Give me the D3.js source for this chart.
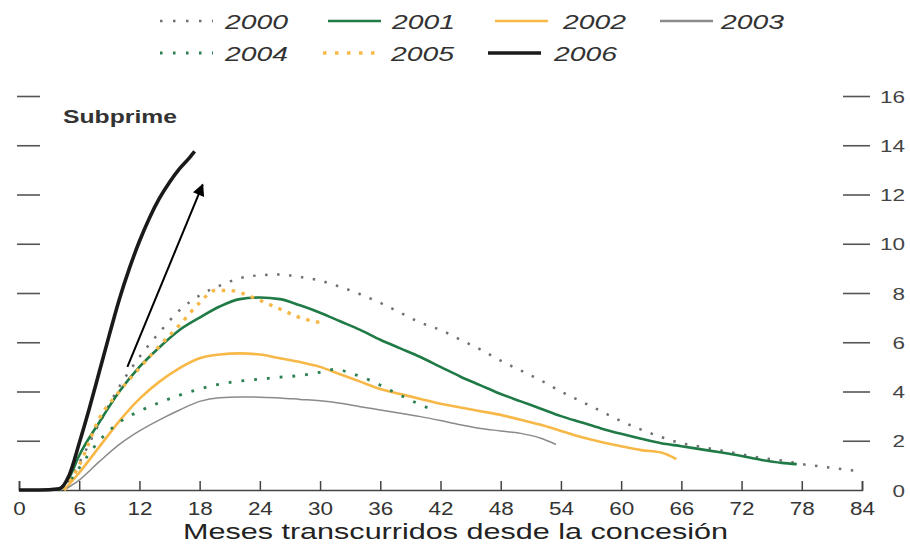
<!DOCTYPE html>
<html>
<head>
<meta charset="utf-8">
<script src="https://cdn.jsdelivr.net/npm/d3@7"></script>
<style>
  html, body { margin: 0; padding: 0; background: #fff; }
  svg { display: block; }
</style>
</head>
<body>
<svg id="chart" width="910" height="544"></svg>
<script>
// ---------- DATA ----------
const xTicks = [0, 6, 12, 18, 24, 30, 36, 42, 48, 54, 60, 66, 72, 78, 84];
const yTicks = [0, 2, 4, 6, 8, 10, 12, 14, 16];
const xTitle = "Meses transcurridos desde la concesión";
const panelLabel = "Subprime";

const m2000 = [4, 5, 6, 8, 10, 12, 14, 16, 18, 20, 22, 24, 26, 28, 30, 32, 34, 36, 38, 40, 42, 44, 46, 48, 50, 52, 54, 56, 58, 60, 62, 64, 66, 68, 70, 72, 74, 76, 78, 80, 82, 84];
const v2000 = [0, 0.4, 1.1, 2.7, 4.2, 5.4, 6.4, 7.3, 7.9, 8.3, 8.6, 8.72, 8.75, 8.65, 8.5, 8.25, 7.95, 7.6, 7.2, 6.8, 6.5, 6.1, 5.7, 5.25, 4.85, 4.45, 4.0, 3.6, 3.2, 2.8, 2.45, 2.15, 1.9, 1.75, 1.6, 1.45, 1.3, 1.2, 1.05, 0.95, 0.85, 0.75];

const m2001 = [4, 5, 6, 8, 10, 12, 14, 16, 18, 20, 22, 24, 26, 28, 30, 32, 34, 36, 38, 40, 42, 44, 46, 48, 50, 52, 54, 56, 58, 60, 62, 64, 66, 68, 70, 72, 74, 76, 77.5];
const v2001 = [0, 0.5, 1.4, 2.75, 4.0, 5.0, 5.8, 6.5, 7.0, 7.45, 7.75, 7.82, 7.75, 7.5, 7.2, 6.85, 6.5, 6.1, 5.75, 5.4, 5.0, 4.6, 4.25, 3.9, 3.6, 3.3, 3.0, 2.75, 2.5, 2.28, 2.08, 1.9, 1.78, 1.65, 1.52, 1.38, 1.22, 1.1, 1.05];

const m2002 = [4.5, 6, 8, 10, 12, 14, 16, 18, 20, 22, 24, 26, 28, 30, 32, 34, 36, 38, 40, 42, 44, 46, 48, 50, 52, 54, 56, 58, 60, 62, 64, 65.5];
const v2002 = [0, 0.7, 1.75, 2.8, 3.7, 4.4, 4.95, 5.35, 5.5, 5.55, 5.5, 5.35, 5.2, 5.0, 4.7, 4.4, 4.1, 3.9, 3.7, 3.5, 3.35, 3.2, 3.05, 2.85, 2.65, 2.4, 2.15, 1.95, 1.78, 1.62, 1.52, 1.25];

const m2003 = [4.5, 6, 8, 10, 12, 14, 16, 18, 20, 22, 24, 26, 28, 30, 32, 34, 36, 38, 40, 42, 44, 46, 48, 50, 52, 53.5];
const v2003 = [0, 0.4, 1.15, 1.85, 2.4, 2.85, 3.25, 3.6, 3.75, 3.78, 3.77, 3.74, 3.68, 3.62, 3.52, 3.38, 3.25, 3.12, 2.98, 2.82, 2.65, 2.5, 2.4, 2.3, 2.1, 1.85];

const m2004 = [4.5, 6, 8, 10, 12, 14, 16, 18, 20, 22, 24, 26, 28, 30, 31.5, 33, 35, 37, 39, 41.5];
const v2004 = [0, 0.9, 2.0, 2.75, 3.2, 3.55, 3.85, 4.1, 4.3, 4.42, 4.5, 4.58, 4.65, 4.78, 4.9, 4.75, 4.45, 4.05, 3.65, 3.2];

const m2005 = [4.5, 6, 8, 10, 12, 14, 16, 18, 19.5, 21, 22.5, 24, 26, 28, 30];
const v2005 = [0, 1.0, 2.9, 4.0, 4.95, 5.85, 6.7, 7.6, 8.1, 8.1, 7.95, 7.7, 7.35, 7.0, 6.8];

const m2006 = [0, 2, 4, 5, 6, 7, 8, 9, 10, 11, 12, 13, 14, 15, 16, 17, 17.5];
const v2006 = [0, 0, 0.05, 0.6, 1.9, 3.3, 4.8, 6.3, 7.75, 9.0, 10.1, 11.05, 11.85, 12.5, 13.05, 13.5, 13.75];

// arrow annotation (start month/value, end month/value)
const arrowFrom = [10.8, 5.0];
const arrowTo = [18.3, 12.4];

// ---------- STYLES ----------
const series = [
  { name: "2000", m: m2000, v: v2000, color: "#707070", width: 2.5, dash: "2.5,9.5" },
  { name: "2001", m: m2001, v: v2001, color: "#1f7a45", width: 2.6, dash: null },
  { name: "2002", m: m2002, v: v2002, color: "#f8b848", width: 2.6, dash: null },
  { name: "2003", m: m2003, v: v2003, color: "#8a8a8a", width: 1.5, dash: null },
  { name: "2004", m: m2004, v: v2004, color: "#2a8050", width: 2.8, dash: "2.8,10" },
  { name: "2005", m: m2005, v: v2005, color: "#f8b848", width: 3.4, dash: "3.5,6.5" },
  { name: "2006", m: m2006, v: v2006, color: "#1a1a1a", width: 3.6, dash: null }
];
const legendPos = [
  { x: 160, y: 21, tx: 225 }, { x: 328, y: 21, tx: 392 }, { x: 495, y: 21, tx: 563 }, { x: 660, y: 21, tx: 721 },
  { x: 160, y: 53, tx: 225 }, { x: 323, y: 53, tx: 391 }, { x: 488, y: 53, tx: 554 }
];

const svg = d3.select("#chart");
const x = d3.scaleLinear().domain([0, 84]).range([19, 862]);
const y = d3.scaleLinear().domain([0, 16]).range([490, 96]);
const textColor = "#333";
const axisColor = "#555";

// ---------- LEFT TICKS (no labels) ----------
const leftAxis = d3.axisLeft(y).tickValues(yTicks.filter(d => d > 0)).tickSize(23).tickFormat("");
const gl = svg.append("g").attr("transform", "translate(40,0)").call(leftAxis);
gl.select(".domain").remove();
gl.selectAll(".tick line").attr("stroke", axisColor).attr("stroke-width", 1.6);

// ---------- RIGHT AXIS ----------
const rightAxis = d3.axisRight(y).tickValues(yTicks).tickSize(27);
const gr = svg.append("g").attr("transform", "translate(843,0)").call(rightAxis);
gr.select(".domain").remove();
gr.selectAll(".tick line").attr("stroke", axisColor).attr("stroke-width", 1.6)
  .filter(d => d === 0).remove();
gr.selectAll(".tick text")
  .attr("x", 62).attr("text-anchor", "end").attr("dy", "0.36em")
  .attr("fill", "#444")
  .style("font-family", "'Liberation Sans', Arial, sans-serif")
  .style("font-size", "17px")
  .attr("textLength", d => String(d).length * 12.5)
  .attr("lengthAdjust", "spacingAndGlyphs");

// ---------- BOTTOM AXIS ----------
const bottomAxis = d3.axisBottom(x).tickValues(xTicks).tickSize(-9).tickPadding(0);
const gb = svg.append("g").attr("transform", "translate(0,490)").call(bottomAxis);
gb.select(".domain").attr("stroke", "#444").attr("stroke-width", 1.6);
gb.selectAll(".tick line").attr("stroke", "#444").attr("stroke-width", 1.5);
gb.selectAll(".tick text")
  .attr("y", 25).attr("dy", 0)
  .attr("fill", textColor)
  .style("font-family", "'Liberation Sans', Arial, sans-serif")
  .style("font-size", "19px")
  .attr("textLength", d => String(d).length * 12.5)
  .attr("lengthAdjust", "spacingAndGlyphs");

svg.append("text")
  .attr("x", 183).attr("y", 539)
  .attr("fill", "#222")
  .style("font-family", "'Liberation Sans', Arial, sans-serif")
  .style("font-size", "22px")
  .attr("textLength", 545).attr("lengthAdjust", "spacingAndGlyphs")
  .text(xTitle);

// ---------- LINES ----------
const line = d3.line().x(d => x(d[0])).y(d => y(d[1])).curve(d3.curveMonotoneX);
series.forEach(s => {
  const pts = s.m.map((mm, i) => [mm, s.v[i]]);
  svg.append("path")
    .datum(pts)
    .attr("d", line)
    .attr("fill", "none")
    .attr("stroke", s.color)
    .attr("stroke-width", s.width)
    .attr("stroke-linejoin", "round")
    .attr("stroke-dasharray", s.dash);
});

// ---------- ARROW ----------
const defs = svg.append("defs");
defs.append("marker")
  .attr("id", "arrowhead").attr("viewBox", "0 0 10 10")
  .attr("refX", 9).attr("refY", 5)
  .attr("markerWidth", 7).attr("markerHeight", 6)
  .attr("markerUnits", "strokeWidth")
  .attr("orient", "auto")
  .append("path").attr("d", "M0,0 L10,5 L0,10 Z").attr("fill", "#000");
svg.append("line")
  .attr("x1", x(arrowFrom[0])).attr("y1", y(arrowFrom[1]))
  .attr("x2", x(arrowTo[0])).attr("y2", y(arrowTo[1]))
  .attr("stroke", "#000").attr("stroke-width", 2)
  .attr("marker-end", "url(#arrowhead)");

// ---------- PANEL LABEL ----------
svg.append("text")
  .attr("x", 63).attr("y", 123)
  .attr("fill", "#333")
  .style("font-family", "'Liberation Sans', Arial, sans-serif")
  .style("font-size", "18px").style("font-weight", "bold")
  .attr("textLength", 114).attr("lengthAdjust", "spacingAndGlyphs")
  .text(panelLabel);

// ---------- LEGEND ----------
const lg = svg.append("g");
series.forEach((s, i) => {
  const p = legendPos[i];
  lg.append("line")
    .attr("x1", p.x).attr("x2", p.x + 53)
    .attr("y1", p.y).attr("y2", p.y)
    .attr("stroke", s.color)
    .attr("stroke-width", s.dash ? s.width : Math.max(s.width, 2.5))
    .attr("stroke-dasharray", s.dash ? (s.name === "2005" ? "3.5,8.5" : "2.5,10.5") : null);
  lg.append("text")
    .attr("x", p.tx).attr("y", p.y + 8)
    .attr("fill", textColor)
    .style("font-family", "'Liberation Sans', Arial, sans-serif")
    .style("font-size", "20px").style("font-style", "italic")
    .attr("textLength", 63).attr("lengthAdjust", "spacingAndGlyphs")
    .text(s.name);
});
</script>
</body>
</html>
